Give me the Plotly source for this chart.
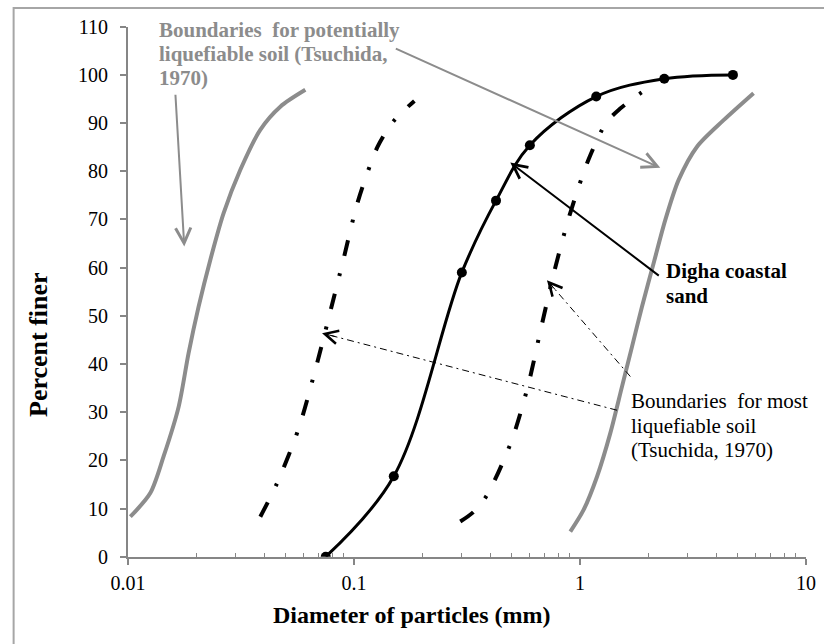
import math
import plotly.graph_objects as go

# Grain size distribution of Digha coastal sand (sieve analysis)
digha_d = [0.075, 0.15, 0.3, 0.425, 0.6, 1.18, 2.36, 4.75]
digha_p = [0, 16.7, 59.0, 73.9, 85.4, 95.5, 99.2, 100]

# Tsuchida (1970) boundaries for potentially liquefiable soil
pot_left_d = [0.01024, 0.01255, 0.01437, 0.01675, 0.01853, 0.02053, 0.02313, 0.02649,
              0.03141, 0.03848, 0.0472, 0.0609]
pot_left_p = [8.3, 13.2, 20.8, 31.1, 42.2, 51.9, 61.6, 71.3, 80.3, 88.6, 93.4, 96.9]
pot_right_d = [0.906, 1.037, 1.189, 1.361, 1.534, 1.699, 1.88, 2.117, 2.385, 2.732,
               3.294, 4.319, 5.86]
pot_right_p = [5.2, 9.7, 16.6, 25.6, 35.3, 43.6, 51.9, 60.9, 69.9, 78.2, 85.1, 90.6, 96.2]

# Tsuchida (1970) boundaries for most liquefiable soil
most_left_d = [0.0385, 0.0456, 0.0569, 0.067, 0.0778, 0.090, 0.104, 0.1272, 0.149, 0.185]
most_left_p = [8.3, 15.2, 26.6, 38.3, 50.1, 61.9, 73.7, 85.1, 90.3, 94.6]
most_right_d = [0.2953, 0.338, 0.3878, 0.4966, 0.589, 0.672, 0.7695, 0.8995, 1.092, 1.307,
                1.497, 1.88, 2.046]
most_right_p = [7.3, 9.3, 12.8, 23.9, 35.5, 47.4, 59.2, 70.9, 82.5, 90.1, 92.9, 96.4, 97.4]

x_tick_vals = [0.01, 0.1, 1, 10]
x_tick_text = ["0.01", "0.1", "1", "10"]

# Chart-area outline (left and top edges, in a full-page frame subplot)
frame_x = [0, 0, 1.2]
frame_y = [-0.2, 1, 1]

SERIF = "Liberation Serif, Times New Roman, serif"
GRAY = "#8c8c8c"
AXIS_GRAY = "#868686"
FRAME_GRAY = "#a6a6a6"
DASH_DOT = "16px,18px,3px,18px"

fig = go.Figure()

fig.add_trace(go.Scatter(x=frame_x, y=frame_y, mode="lines", xaxis="x2", yaxis="y2",
                         line=dict(color=FRAME_GRAY, width=2), hoverinfo="skip"))

for d, p in [(pot_left_d, pot_left_p), (pot_right_d, pot_right_p)]:
    fig.add_trace(go.Scatter(x=d, y=p, mode="lines",
                             line=dict(color=GRAY, width=4, shape="spline", smoothing=0.8),
                             hoverinfo="skip"))

for d, p in [(most_left_d, most_left_p), (most_right_d, most_right_p)]:
    fig.add_trace(go.Scatter(x=d, y=p, mode="lines",
                             line=dict(color="black", width=4, dash=DASH_DOT,
                                       shape="spline", smoothing=0.8),
                             hoverinfo="skip"))

fig.add_trace(go.Scatter(x=digha_d, y=digha_p, mode="lines+markers",
                         line=dict(color="black", width=3, shape="spline", smoothing=1.0),
                         marker=dict(color="black", size=10)))

# Thin dash-dot leader lines for the "most liquefiable" label
leaders = [
    ((1.458, 30.4), (0.0722, 46.4)),
    ((1.67, 37.4), (0.7145, 57.4)),
]
for (td, tp), (hd, hp) in leaders:
    fig.add_trace(go.Scatter(x=[td, hd], y=[tp, hp], mode="lines",
                             line=dict(color="black", width=1, dash="7px,4px,2px,4px"),
                             hoverinfo="skip"))

annotations = []


def arrow(tail, head, color, width, size, frac=1.0):
    hx, hy = math.log10(head[0]), head[1]
    tx, ty = math.log10(tail[0]), tail[1]
    ax = hx + frac * (tx - hx)
    ay = hy + frac * (ty - hy)
    annotations.append(dict(x=hx, y=hy, ax=ax, ay=ay, xref="x", yref="y",
                            axref="x", ayref="y", text="", showarrow=True,
                            arrowhead=5, arrowsize=size, arrowwidth=width,
                            arrowcolor=color))


arrow((0.0162, 96.2), (0.01774, 64.4), GRAY, 2, 1.5)
arrow((0.1508, 105.6), (2.266, 80.7), GRAY, 2, 1.5)
arrow((2.266, 58.1), (0.4916, 81.8), "black", 2, 1.4)
arrow(leaders[0][0], leaders[0][1], "black", 1, 2.6, frac=0.05)
arrow(leaders[1][0], leaders[1][1], "black", 1, 2.6, frac=0.11)


def text_lines(lines, x_mm, y_first, step, bold, color):
    for i, t in enumerate(lines):
        annotations.append(dict(x=math.log10(x_mm), y=y_first - i * step, xref="x", yref="y",
                                text=f"<b>{t}</b>" if bold else t, showarrow=False,
                                xanchor="left", yanchor="middle",
                                font=dict(family=SERIF, size=21, color=color)))


text_lines(["Boundaries\u00a0 for potentially", "liquefiable soil (Tsuchida,", "1970)"],
           0.01350, 109.3, 5.0, True, GRAY)
text_lines(["Digha coastal", "sand"], 2.36, 59.3, 5.2, True, "black")
text_lines(["Boundaries\u00a0 for most", "liquefiable soil", "(Tsuchida, 1970)"],
           1.643, 32.3, 5.1, False, "black")

# Axis titles, centred on the chart area
annotations.append(dict(x=0.492, y=0.046, xref="paper", yref="paper",
                        text="<b>Diameter of particles (mm)</b>", showarrow=False,
                        xanchor="center", yanchor="middle",
                        font=dict(family=SERIF, size=24, color="black")))
annotations.append(dict(x=0.0335, y=0.469, xref="paper", yref="paper",
                        text="<b>Percent finer</b>", showarrow=False, textangle=-90,
                        xanchor="center", yanchor="middle",
                        font=dict(family=SERIF, size=26, color="black")))

minor_vals = [m * 10 ** e for e in (-2, -1, 0) for m in range(2, 10)]

fig.update_layout(
    width=824, height=644,
    margin=dict(l=12, r=0, t=6, b=0, autoexpand=False),
    paper_bgcolor="white", plot_bgcolor="rgba(0,0,0,0)",
    showlegend=False,
    annotations=annotations,
    xaxis=dict(type="log", range=[-2, 1], domain=[0.14286, 0.97783],
               tickmode="array", tickvals=x_tick_vals, ticktext=x_tick_text,
               ticks="outside", ticklen=6, tickwidth=1.5, tickcolor=AXIS_GRAY,
               showline=True, linecolor=AXIS_GRAY, linewidth=2,
               showgrid=False, zeroline=False,
               minor=dict(tickmode="array", tickvals=minor_vals, ticks="inside",
                          ticklen=4, tickwidth=1.2, tickcolor=AXIS_GRAY, showgrid=False),
               tickfont=dict(family=SERIF, size=20, color="black"),
               ticklabelstandoff=1),
    yaxis=dict(range=[0, 110], domain=[0.13683, 0.96755], dtick=10, tick0=0,
               ticks="outside", ticklen=6, tickwidth=1.5, tickcolor=AXIS_GRAY,
               showline=True, linecolor=AXIS_GRAY, linewidth=2,
               showgrid=False, zeroline=False,
               tickfont=dict(family=SERIF, size=20, color="black"),
               ticklabelstandoff=8),
    xaxis2=dict(domain=[0, 1], range=[-0.002, 1], anchor="y2", visible=False,
                showgrid=False, zeroline=False, fixedrange=True),
    yaxis2=dict(domain=[0, 1], range=[0, 1.003], anchor="x2", visible=False,
                showgrid=False, zeroline=False, fixedrange=True),
)

fig.write_html("out.html")
